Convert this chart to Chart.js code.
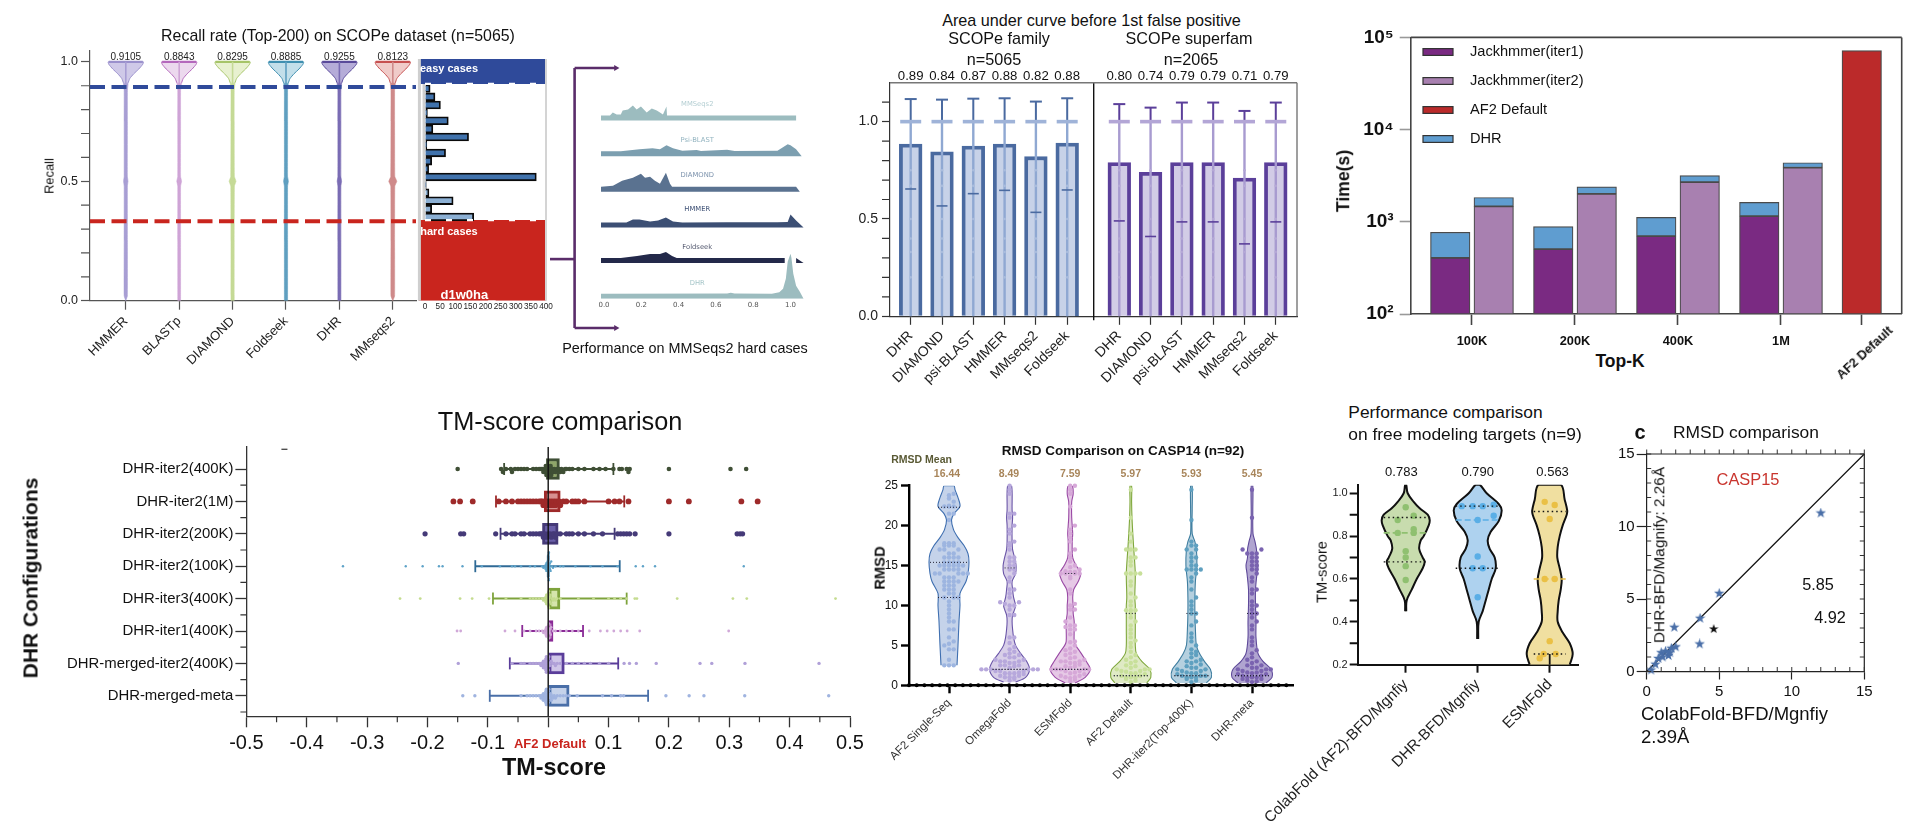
<!DOCTYPE html>
<html><head><meta charset="utf-8">
<style>html,body{margin:0;padding:0;background:#fff}#root{position:relative;width:1920px;height:831px;overflow:hidden;background:#fff}
canvas{position:absolute}.n{position:absolute;white-space:nowrap;line-height:1;color:#111;font-family:"Liberation Sans",Arial,sans-serif;transform-origin:center}</style>
<script src="https://cdn.jsdelivr.net/npm/chart.js@4/dist/chart.umd.min.js"></script>
</head><body><div id="root"></div>
<script>
// ---------- DATA ----------
// Panel A: recall violins
const recallMethods=['HMMER','BLASTp','DIAMOND','Foldseek','DHR','MMseqs2'];
const recallMeans=['0.9105','0.8843','0.8295','0.8885','0.9255','0.8123'];
const recallFill=['#cfc9e8','#ecd9ee','#e8f1d0','#c3dfea','#b5acd8','#f0cbc9'];
const recallBody=['#a89ed4','#cfa4d6','#c5da96','#5f9fc0','#7a6cb4','#cf8a8a'];
const recallStroke=['#9a90cc','#b468bc','#a6c468','#3f8fb0','#5a4a9a','#c65050'];
const recallLevels=[0,0.02,0.25,0.48,0.5,0.52,0.75,0.88,0.91,0.93,0.95,0.97,0.99,1.0];
const recallWidths=[[0,1.6,1.6,1.6,2.2,1.6,1.6,1.6,2.2,4,8,13,17,17.5],[1.4,1.4,1.4,1.4,2.4,1.4,1.4,1.4,2.2,4,8,13,17,17.5],[1.6,1.6,1.6,1.8,3.4,1.8,1.6,1.6,2.2,4,8,13,17,17.5],[1.6,1.6,1.6,1.6,2.4,1.6,1.6,1.6,2.2,4,8,13,17,17.5],[1.5,1.5,1.5,1.5,2.2,1.5,1.5,1.5,2.2,4,8,13,17,17.5],[0,1.8,1.8,2,4,2,1.8,1.8,2.4,4,8,13,17,17.5]];
const easyThreshold=0.895, hardThreshold=0.333;
// Panel B: MMseqs2 sample histogram
const histRecall=[0.876,0.842,0.808,0.776,0.743,0.709,0.676,0.644,0.610,0.576,0.544,0.511,0.478,0.446,0.413,0.378,0.346];
const histCount=[17,33,51,8,77,26,144,6,68,22,12,368,4,13,93,22,161];
const histTicks=[0,50,100,150,200,250,300,350,400];
// Ridge plots
const ridgeNames=['MMSeqs2','Psi-BLAST','DIAMOND','HMMER','Foldseek','DHR'];
const ridgeColors=['#9cbcbf','#7c9fb0','#5a7290','#3c4f74','#23294a','#9cbcbf'];
const ridgeX=[[-.016,.032,.047,.068,.09,.10,.129,.155,.175,.198,.229,.256,.283,.30,.316,.335,.338,1.03],
[-.016,.09,.19,.26,.30,.335,.37,.42,.497,.52,.66,.70,.93,.985,1.0,1.03,1.06],
[-.016,.048,.097,.155,.198,.22,.247,.273,.30,.332,.354,.365,1.03,1.05],
[-.016,.12,.155,.19,.247,.29,.332,.37,.42,.66,.70,.93,.985,1.0,1.03,1.07],
[-.016,.09,.177,.247,.30,.332,.365,.39,.969,null,1.03,1.07],
[-.016,.66,.68,.70,.90,.94,.96,.975,.985,1.0,1.005,1.015,1.03,1.05,1.07]];
const ridgeH=[[0,0,3,1,1,5,6,10,6,9,3,7,5,3,1,9,0,0],
[0,0,2,3,2,6,3,.5,1.2,.3,1.5,.3,.5,7,6,2,-5],
[0,1,6,9,13,9,10,6,3,14,3,0,0,-5],
[0,0,3,3,1,2,5,1,0,.2,.2,.2,.5,8,2,-5],
[0,0,2,4,4,6,2,0,0,null,0,-5],
[0,.2,1,.2,0,1.5,5,15,32,40,36,20,8,2,-5]];
const ridgeTicks=[0,.2,.4,.6,.8,1];
// Panel C: AUC before 1st FP
const aucMethods=['DHR','DIAMOND','psi-BLAST','HMMER','MMseqs2','Foldseek'];
const aucFamLabels=['0.89','0.84','0.87','0.88','0.82','0.88'];
const aucSupLabels=['0.80','0.74','0.79','0.79','0.71','0.79'];
const aucFam=[0.885,0.845,0.875,0.885,0.82,0.89];
const aucSup=[0.79,0.74,0.79,0.79,0.71,0.79];
const aucFamCap=[1.116,1.113,1.118,1.12,1.103,1.12];
const aucSupCap=[1.09,1.072,1.098,1.098,1.055,1.098];
const aucFamMed=[.654,.567,.63,.647,.534,.649];
const aucSupMed=[.49,.41,.485,.485,.372,.485];
const aucDots=[.2,.33,.4,.5,.67,.75];
// Panel D: time
const topK=['100K','200K','400K','1M'];
const iter1=[405,506,698,1153];
const iter1Total=[770,885,1117,1622];
const iter2=[1468,2005,2700,3860];
const iter2Total=[1836,2390,3170,4370];
const af2Time=71900;
const timeSeries=['Jackhmmer(iter1)','Jackhmmer(iter2)','AF2 Default','DHR'];
const timeColors=['#7a2a82','#a880b0','#bb2a2a','#5f9dd0'];
// Panel E: TM-score boxes
const tmRows=['DHR-iter2(400K)','DHR-iter2(1M)','DHR-iter2(200K)','DHR-iter2(100K)','DHR-iter3(400K)','DHR-iter1(400K)','DHR-merged-iter2(400K)','DHR-merged-meta'];
const tmBox=[[-.003,.0186],[-.0066,.02],[-.0095,.0165],[-.002,.002],[0,.0195],[0,.008],[0,.0267],[0,.0347]];
const tmWhisk=[[-.073,.108],[-.0865,.126],[-.079,.11],[-.1208,.1185],[-.0915,.13],[-.043,.0577],[-.0636,.116],[-.0968,.1655]];
const tmDark=['#3f4f35','#9e2a2a','#453a78','#2f6a96','#7ea33c','#8a2a96','#5a3d9a','#4a6fa8'];
const tmLight=['#8fa56a','#d89090','#6a5fa8','#8fc0dc','#d5e5ac','#c080cc','#cfc5e8','#c5d2ea'];
const tmDot=['#3f4f35','#9e2a2a','#453a78','#5fa3c8','#c5dc90','#d0a8d8','#b0a0d8','#a0b4e0'];
const tmDotSize=[2.3,2.9,2.6,1.2,1.4,1.4,1.7,1.7];
const tmVals=[
[-.15,-.078,-.075,-.07,-.062,-.06,-.055,-.05,-.045,-.04,-.035,-.025,-.02,-.015,-.012,-.01,-.008,-.006,-.005,-.004,-.003,-.002,-.001,0,.001,.002,.003,.004,.005,.006,.008,.01,.012,.015,.018,.02,.022,.025,.028,.03,.035,.04,.05,.06,.075,.085,.095,.108,.118,.122,.13,.133,.135,.2,.302,.328],
[-.157,-.146,-.125,-.082,-.07,-.06,-.05,-.045,-.04,-.035,-.03,-.025,-.02,-.015,-.012,-.01,-.008,-.006,-.004,-.002,0,.002,.004,.006,.008,.01,.012,.014,.018,.02,.025,.03,.04,.045,.05,.06,.1,.11,.118,.133,.2,.233,.32,.347],
[-.204,-.145,-.14,-.087,-.07,-.06,-.055,-.045,-.04,-.03,-.025,-.02,-.015,-.012,-.01,-.008,-.005,-.003,0,.003,.005,.008,.01,.012,.015,.02,.03,.035,.04,.05,.06,.075,.09,.115,.12,.125,.13,.135,.144,.2,.313,.318,.322],
[-.34,-.236,-.208,-.181,-.175,-.142,-.11,-.08,-.06,-.055,-.045,-.03,-.022,-.01,-.008,-.006,-.005,-.004,-.004,-.003,-.003,-.002,-.002,-.002,-.001,-.001,-.001,-.001,0,0,0,0,0,0,0,0,.001,.001,.001,.001,.002,.002,.002,.003,.003,.004,.005,.006,.008,.012,.02,.025,.045,.07,.09,.115,.145,.157,.177,.324],
[-.2455,-.212,-.146,-.126,-.098,-.07,-.045,-.03,-.025,-.02,-.015,-.01,-.008,-.006,-.005,-.004,-.004,-.003,-.003,-.002,-.002,-.001,-.001,0,0,0,0,.001,.001,.002,.002,.003,.003,.004,.005,.006,.008,.01,.012,.015,.02,.05,.075,.1,.11,.12,.13,.1435,.147,.2137,.306,.329,.476],
[-.151,-.145,-.0716,-.055,-.04,-.03,-.02,-.015,-.01,-.008,-.006,-.005,-.004,-.004,-.003,-.003,-.002,-.002,-.001,-.001,0,0,0,.001,.001,.002,.002,.003,.004,.005,.008,.012,.02,.03,.04,.05,.068,.0865,.0977,.1087,.12,.1308,.1516,.299],
[-.149,-.06,-.045,-.04,-.03,-.025,-.02,-.015,-.012,-.012,-.01,-.01,-.008,-.008,-.006,-.006,-.005,-.005,-.004,-.004,-.003,-.003,-.002,-.002,-.001,-.001,0,0,.001,.002,.003,.005,.008,.01,.012,.015,.02,.03,.04,.05,.06,.07,.085,.1,.1257,.1347,.146,.179,.2515,.271,.326,.4487],
[-.1415,-.1215,-.045,-.035,-.03,-.025,-.02,-.015,-.012,-.012,-.01,-.01,-.008,-.008,-.006,-.006,-.005,-.005,-.004,-.004,-.003,-.003,-.002,-.002,-.001,-.001,0,0,.001,.002,.003,.004,.005,.006,.008,.01,.012,.015,.02,.025,.03,.035,.048,.09,.105,.12,.125,.195,.2335,.258,.3256,.4647]];
const tmTicks=[-.5,-.4,-.3,-.2,-.1,0,.1,.2,.3,.4,.5];
// Panel F: RMSD violins
const rmsdNames=['AF2 Single-Seq','OmegaFold','ESMFold','AF2 Default','DHR-iter2(Top-400K)','DHR-meta'];
const rmsdMeans=['16.44','8.49','7.59','5.97','5.93','5.45'];
const rmsdFill=['#c5d3ea','#d8cfe8','#e6c9e6','#dfeac5','#b5d0df','#b0a4d0'];
const rmsdStroke=['#3f6fb0','#6a55a8','#9a4aa5','#7fa83c','#3f7ea0','#5f4a9a'];
const rmsdDot=['#9db5e0','#b7a8dc','#d6a8d8','#c8e09a','#5fa0c0','#7a63b0'];
const rmsdY=[[2.5,5,8,10,11.5,13,14,15.4,16.5,17.5,18.5,19.5,20.7,21.5,22.4,23.5,24.5,25],
[.4,1,2,3,4,5,6,7,8,8.8,9.5,10,11,12,13,14,15,16,17,18,20,21,22,25],
[.3,1,2,3,4,5,5.5,7,8,9,10,11,12,13,14,15,16,18,19,21,23,24,25],
[.3,1,2,3,4,5,7,9,10,11,14,17,19,21,23,25],
[.3,1,2,3,4,5,7,9,11,13,15,17,18,19,22,25],
[.3,1,2,3,4,6,8,10,12,14,15,16,17,18,19,22,25]];
const rmsdW=[[8,9,10,11,11,17,19,20,19,15,9,4.5,2.5,5,11,9,6,5],
[6,16,20,17,11,6,4,3,2.5,3,5,6,4,3,2.5,6,6.5,5,3,2.5,2.5,3,2.5,2],
[5,15,20,16,11,5.5,4,4,4,3,3,2.5,3.5,8,10.5,6,2.5,2,2.5,1.5,1.5,3,2],
[16,20,19,11,5.5,4.5,4.5,4.5,4.5,4,4.5,3,2,1.2,.8,.8],
[15,20,19,13,8,5,4,3.5,3.5,4,5.5,5,3.5,.8,.8,.8],
[14,20,19,11,6,4,4,3.5,3.5,5,6,4.5,4.5,3,1,.8,.8]];
const rmsdDots=[
[2.5,2.5,2.5,3.2,4.5,4.5,5,5.2,5.5,6,7,7,8,8,8.5,9,9.5,10,10.5,11,11,11,11.5,11.5,12,12,12,12.5,12.5,12.5,13,13,13,13,13.5,13.5,13.5,14,14,14,14,14,14.5,14.5,14.5,14.5,15,15,15,15,15,15,15.4,15.4,15.4,15.4,16,16,16,16,16.5,16.5,17,17,17,17.5,17.5,17.5,17.8,17.8,17.8,20.7,21.5,21.5,22.4,22.4,22.4,22.5,23,23.4,23.8,24],
[.6,.8,1,1,1,1.2,1.2,1.4,1.5,1.5,1.5,1.6,1.8,1.8,1.8,2,2,2,2,2,2,2.2,2.4,2.5,2.5,2.5,2.8,2.8,3,3,3,3.2,3.2,3.5,3.5,3.8,3.8,4,4.2,4.5,4.8,5.3,6,6,8.8,8.8,9.5,10,10,10.2,10.4,10.4,11,11.5,12,12,13,13.5,14,14.5,14.5,15,15,15.5,15.5,16,16,17,17.5,17.8,18,19,19.5,20,21,21.5,21.5,24,24.5,25],
[.5,.7,.9,1,1,1.2,1.2,1.4,1.5,1.6,1.8,1.8,2,2,2,2,2,2.2,2.4,2.4,2.6,2.8,2.8,3,3,3,3.2,3.4,3.5,3.8,4,4.2,4.4,4.6,5,5.4,5.5,6.4,7,7,7.3,7.5,7.5,8,8.5,9.5,9.5,10,10.2,11.5,12,13.4,13.6,14,14,14,14,14.2,14.2,14.3,14.5,14.8,15,15.5,16,16.5,17,18,18.5,19,19.5,20,22.4,24,24.5,25,25],
[.4,.6,.8,1,1,1,1.2,1.2,1.4,1.5,1.5,1.7,1.8,1.8,2,2,2,2.2,2.4,2.5,2.8,3,3.2,3.5,3.8,4.2,4.8,5.3,5.6,6,6.5,7,7.5,8,8.5,9,9.4,9.4,9.4,10,10.5,11,11.5,12.5,13,14,14,14,14,15,15.5,16,16,17,17,17,18,19,21,24.5],
[.4,.6,.8,1,1,1,1.2,1.2,1.2,1.4,1.5,1.5,1.6,1.8,1.8,2,2,2.2,2.2,2.4,2.6,2.8,3,3,3.2,3.5,3.8,4,4.2,4.5,5,5.5,6,6.5,7.5,8,9,9,9.5,10,10.5,11,12,13,13.5,14,14.5,14.5,14.5,14.5,15,15,15.5,16,16,16.5,17,17,17.5,17.5,18,20.7,24.5],
[.4,.5,.6,.8,.8,1,1,1,1.2,1.2,1.4,1.4,1.5,1.6,1.6,1.8,1.8,2,2,2,2.2,2.2,2.5,2.5,2.8,3,3.2,3.5,4,4.4,5,5.5,6,7,7.5,8,8.5,9,9,9.5,10,10,10.5,11.5,12,12,13,13.5,14,14.5,14.5,15,15,15.5,15.5,16,16,16.5,16.5,16.5,17,17,21,24.5]];
const rmsdQuart=[[11,15.4,22.3],[2,2,14.7],[2,2,14],[1.2,1.2,9],[1.2,1.2,9],[1.2,1.2,9]];
// Panel G: free modeling violins
const fmNames=['ColabFold (AF2)-BFD/Mgnfiy','DHR-BFD/Mgnfiy','ESMFold'];
const fmMeans=['0.783','0.790','0.563'];
const fmFill=['#c8dcae','#aed2ef','#f0dfa0'];
const fmDot=['#8fc070','#5aaee6','#eac045'];
const fmY=[[.45,.5,.55,.6,.65,.68,.7,.74,.78,.8,.85,.875,.9,.93,.96,1.0,1.04],
[.32,.4,.45,.5,.55,.6,.65,.7,.74,.78,.82,.87,.92,.95,1.0,1.04],
[.2,.25,.3,.35,.4,.45,.5,.55,.6,.65,.7,.75,.8,.85,.9,.92,.97,1.04]];
const fmW=[[.5,1,6,11,17,19,17,13.5,15,18,23,24,22,14,8,2,.5],
[.5,1,5,8,11,14,18,17,12,10,13,21,24,21,9,2],
[20,23,20,13,8,8,9,11,12,10,7.6,8,10,13,17,17.5,15,11]];
const fmPts=[[[.935,0],[.895,8],[.875,-8],[.832,8],[.815,-8],[.815,8],[.73,0],[.70,0],[.66,0],[.595,0]],
[[.94,-16],[.94,-5],[.94,5],[.947,16],[.895,16],[.875,0],[.705,0],[.65,-5],[.65,5],[.515,0]],
[[.96,-5],[.945,5],[.88,0],[.60,-5],[.60,5],[.31,0],[.25,-6],[.25,6],[.23,-10]]];
const fmLines=[[.887,.68],[.94,.65],[.915,.25]], fmMed=[.815,.875,.6];
// Panel H: scatter
const casp15Base=[12,5,3.68,1.9,3.65,.3,.6,.8,1,1.1,1.3,1.5,1.6,1.7,2];
const casp15Dhr=[10.93,5.39,3.67,3.05,1.9,.1,.5,.9,1.3,1,1.4,1.1,1.3,1.6,1.7];
const casp15Marked=[[4.62,2.93]];
const rmsdAxis=[0,5,10,15];

// ---------- HELPERS ----------
const FAM='"Liberation Sans",Arial,sans-serif';
const root=document.getElementById('root');
Chart.defaults.font.family=FAM;
function note(text,x,y,size,o={}){
  const s=document.createElement('span');s.className='n';s.textContent=text;
  s.style.fontSize=size+'px';if(o.bold)s.style.fontWeight='bold';if(o.color)s.style.color=o.color;
  if(o.family)s.style.fontFamily=o.family;
  const ax=o.align==='left'?'0':o.align==='right'?'-100%':'-50%';
  s.style.left=x+'px';s.style.top=y+'px';
  s.style.transform=`translate(${ax},-50%)`+(o.rot?` rotate(${o.rot}deg)`:'');
  root.appendChild(s);
}
function build(box,plot,cfg,ex={}){
  const c=document.createElement('canvas');c.width=box.w;c.height=box.h;
  c.style.left=box.x+'px';c.style.top=box.y+'px';c.style.width=box.w+'px';c.style.height=box.h+'px';root.appendChild(c);
  const sc=cfg.scales;
  const xShown=sc.x.display!==false, yShown=sc.y.display!==false;
  if(xShown)sc.x.afterFit=s=>{s.height=box.y+box.h-plot.b};
  if(yShown)sc.y.afterFit=s=>{s.width=plot.l-box.x};
  const plugin={id:'extras',afterDatasetsDraw(ch){
    const g=ch.ctx,a=ch.chartArea;g.save();
    if(ex.frame){g.strokeStyle=ex.frame.color;g.lineWidth=ex.frame.width;g.beginPath();
      if(ex.frame.sides.includes('t')){g.moveTo(a.left,a.top);g.lineTo(a.right,a.top);}
      if(ex.frame.sides.includes('r')){g.moveTo(a.right,a.top);g.lineTo(a.right,a.bottom);}
      g.stroke();}
    (ex.ticks||[]).forEach(t=>{g.strokeStyle=t.color||'#333';g.lineWidth=t.width||1;g.beginPath();
      t.at.forEach(v=>{
        if(t.axis==='x'){const p=ch.scales.x.getPixelForValue(v),y0=t.far?a.top:a.bottom,d=t.far?-t.len:t.len;g.moveTo(p,y0);g.lineTo(p,y0+d);}
        else{const p=ch.scales.y.getPixelForValue(v),x0=t.far?a.right:a.left,d=t.far?t.len:-t.len;g.moveTo(x0,p);g.lineTo(x0+d,p);}
      });g.stroke();});
    (ex.texts||[]).forEach(t=>{g.font=`${t.weight||'normal'} ${t.size}px ${t.family||FAM}`;g.fillStyle=t.color||'#111';g.textAlign='center';g.textBaseline='middle';
      g.fillText(t.text,ch.scales.x.getPixelForValue(t.x),ch.scales.y.getPixelForValue(t.y)+(t.dy||0));});
    (ex.legend||[]).forEach((l,i)=>{g.fillStyle=l.color;g.strokeStyle='#333';g.lineWidth=1.2;
      const X=l.sx-box.x,Y=l.sy-box.y;g.fillRect(X,Y-3.4,30,6.8);g.strokeRect(X,Y-3.4,30,6.8);
      g.fillStyle='#111';g.font=`14.6px ${FAM}`;g.textAlign='left';g.textBaseline='middle';g.fillText(l.text,X+47,Y);});
    g.restore();
  }};
  const ds=cfg.datasets;ds.forEach((d,i)=>{d.order=-i;});
  return new Chart(c,{type:'scatter',data:{datasets:ds},plugins:[plugin],options:{responsive:false,animation:false,devicePixelRatio:1,events:[],
    layout:{padding:{left:yShown?0:plot.l-box.x,top:plot.t-box.y,right:box.x+box.w-plot.r,bottom:xShown?0:box.y+box.h-plot.b}},
    plugins:{legend:{display:false},tooltip:{enabled:false},title:{display:false}},scales:sc}});
}
function axis(o){return {type:o.type||'linear',min:o.min,max:o.max,reverse:!!o.reverse,display:o.display!==false,offset:false,
  border:{display:o.line!==false,color:o.color||'#333',width:o.lw||1.2},
  grid:{offset:false,drawOnChartArea:false,drawTicks:o.tl!==0,tickLength:o.tl===undefined?8:o.tl,tickColor:o.tickColor||o.color||'#333',tickWidth:o.lw||1.2},
  ticks:{font:{size:o.size||12,weight:o.weight||'normal',family:o.family||FAM},color:o.fc||'#111',padding:o.pad===undefined?3:o.pad,autoSkip:false,maxRotation:o.rot||0,minRotation:o.rot||0,
    callback:o.fmt||(v=>v)},
  afterBuildTicks:o.at?(s=>{s.ticks=o.at.map(v=>({value:v}))}):undefined};}
const hidden=(min,max)=>({type:'linear',min,max,display:false,offset:false,grid:{offset:false}});
const seg=(pairs,color,width,extra={})=>Object.assign({type:'scatter',showLine:true,data:pairs.map(p=>p?{x:p[0],y:p[1]}:{x:null,y:null}),borderColor:color,borderWidth:width,pointRadius:0,fill:false,tension:0,clip:false},extra);
const pts=(pairs,color,r,extra={})=>Object.assign({type:'scatter',data:pairs.map(p=>({x:p[0],y:p[1]})),backgroundColor:color,borderColor:color,pointRadius:r,borderWidth:0,pointBorderWidth:0,clip:false},extra);
const bars=(pairs,fill,stroke,width,thick,extra={})=>Object.assign({type:'bar',data:pairs.map(p=>({x:p[0],y:p[1]})),backgroundColor:fill,borderColor:stroke,borderWidth:width,maxBarThickness:thick,barPercentage:1,categoryPercentage:1,grouped:false,clip:false},extra);
function violin(cx,ys,ws,pxPerUnit){const L=[],R=[];ys.forEach((y,i)=>{L.push({x:cx-ws[i]/pxPerUnit,y});});for(let i=ys.length-1;i>=0;i--)R.push({x:cx+ws[i]/pxPerUnit,y:ys[i]});return L.concat(R);}
const shape=(data,fill,stroke,w,t=0.3)=>({type:'scatter',showLine:true,data,fill:'shape',backgroundColor:fill,borderColor:stroke,borderWidth:w,pointRadius:0,tension:t});
function range(a,b,s){const r=[];for(let i=0;Math.round((a+i*s)*1e6)/1e6<=b;i++)r.push(Math.round((a+i*s)*1e6)/1e6);return r;}
function star(color,size){const c=document.createElement('canvas');c.width=c.height=size;const g=c.getContext('2d');g.fillStyle=color;g.beginPath();
  for(let i=0;i<10;i++){const r=i%2?size*.2:size*.5,a=-Math.PI/2+i*Math.PI/5;g.lineTo(size/2+r*Math.cos(a),size/2+r*Math.sin(a));}g.closePath();g.fill();return c;}

// ---------- PANEL A ----------
(function(){
 const step=53.4,k=step;
 const ds=[];
 recallMethods.forEach((m,i)=>{
  const cut=8;
  ds.push(shape(violin(i+1,recallLevels.slice(cut),recallWidths[i].slice(cut),k),recallFill[i],recallStroke[i],1,0.2));
  ds.push(shape(violin(i+1,recallLevels.slice(0,cut+1),recallWidths[i].slice(0,cut+1),k),recallBody[i],recallBody[i],.6,0.1));
  ds.push(seg([[i+1-17/k,1],[i+1+17/k,1]],recallStroke[i],2.2));
  ds.push(seg([[i+1,.9],[i+1,1]],recallBody[i],1.6));
 });
 const xmax=1+(416-125.8)/step;
 ds.push(seg([[.33,easyThreshold],[xmax,easyThreshold]],'#2f4a9a',4,{borderDash:[15,6.5]}));
 ds.push(seg([[.33,hardThreshold],[xmax,hardThreshold]],'#c9251e',4,{borderDash:[15,6.5]}));
 build({x:20,y:40,w:420,h:360},{l:90,t:47,r:416,b:300.7},{datasets:ds,scales:{
  x:axis({min:.33,max:xmax,at:[1,2,3,4,5,6],fmt:(v)=>recallMethods[v-1],rot:45,size:13,tl:9,color:'#555',lw:1.2,fc:'#222',pad:4}),
  y:axis({min:0,max:(300.7-47)/242.2,at:[0,.5,1],fmt:v=>v.toFixed(1),size:12.5,tl:9,color:'#555',lw:1.2,fc:'#222',pad:3})}},
  {ticks:[{axis:'y',at:[.1,.2,.3,.4,.6,.7,.8,.9],len:9,color:'#555',width:1.2}],
   texts:recallMeans.map((t,i)=>({x:i+1,y:1,text:t,size:10,color:'#222',dy:-4.5}))});
 note('Recall rate (Top-200) on SCOPe dataset (n=5065)',338,36,15.9);
 note('Recall',50,176,12.9,{rot:-90});
})();
// ---------- PANEL B ----------
(function(){
 const xmin=-21.5;
 const barColors=histCount.map((c,i)=>i<13?'#4072ac':'#8cb0d4');
 const ds=[
  seg([[xmin,easyThreshold],[400,easyThreshold],[400,.998],[xmin,.998],[xmin,easyThreshold]],'#2f4a9a',0,{fill:'shape',backgroundColor:'#2f4a9a'}),
  seg([[xmin,0],[400,0],[400,hardThreshold],[xmin,hardThreshold],[xmin,0]],'#c9251e',0,{fill:'shape',backgroundColor:'#c9251e'}),
  seg([[xmin+3,0],[xmin+3,.998]],'#cfcfcf',3),
  seg([[400,0],[400,.998]],'#d4d4d4',2),
  seg([[-4,easyThreshold],[-4,hardThreshold]],'#cfcfcf',2.5),
  bars(histCount.map((c,i)=>[c,histRecall[i]]),barColors,'#0a0a0a',1.8,8.6,{indexAxis:'y'}),
  seg([[0,easyThreshold],[400,easyThreshold]],'#ffffff',2.2,{borderDash:[6,15]}),
  seg([[0,hardThreshold],[400,hardThreshold]],'#ffffff',2.2,{borderDash:[6,15]}),
 ];
 build({x:400,y:50,w:170,h:265},{l:418.5,t:59,r:546,b:300.7},{datasets:ds,scales:{
  x:axis({min:xmin,max:400,at:histTicks,size:8.2,tl:0,line:false,fc:'#222',pad:1,fmt:v=>v}),
  y:hidden(0,.998)}},
  {});
 note('easy cases',449,68,11,{bold:true,color:'#fff'});
 note('hard cases',449,231,11,{bold:true,color:'#fff'});
 note('d1w0ha_',468,294,13,{bold:true,color:'#fff'});
})();
// ---------- CONNECTOR ----------
(function(){
 const col='#5a2d6a';
 build({x:540,y:60,w:90,h:280},{l:550,t:68,r:618,b:328},{datasets:[
  seg([[0,.265],[.3618,.265]],col,2.6),
  seg([[.3618,0],[.3618,1]],col,2.6),
  seg([[.3618,1],[.97,1]],col,2.6),
  seg([[.3618,0],[.97,0]],col,2.6),
  pts([[.97,1],[.97,0]],col,3.5,{pointStyle:'triangle',pointRotation:90})
 ],scales:{x:hidden(0,1),y:hidden(0,1)}});
})();
// ---------- RIDGES ----------
(function(){
 const ds=[];const xmin=(595-604)/186.5,xmax=(810-604)/186.5,band=5;
 ridgeNames.forEach((n,i)=>{
  const base=(5-i)*35.62;
  const line=[];ridgeX[i].forEach((x,j)=>{line.push(x===null?[null,null]:[x,base+band+ridgeH[i][j]]);});
  let cur=[];const flush=()=>{if(cur.length){const f=cur[0][0],l=cur[cur.length-1][0];
     ds.push(seg([[f,base]].concat(cur,[[l,base]]),ridgeColors[i],0,{fill:'shape',backgroundColor:ridgeColors[i],clip:true}));}cur=[];};
  line.forEach(p=>{if(p[0]===null)flush();else cur.push(p);});flush();
 });
 const labY=[16.1,16.3,16.3,18.7,16,15.7];
 build({x:570,y:90,w:260,h:225},{l:595,t:90,r:810,b:298.7},{datasets:ds,scales:{
  x:axis({min:xmin,max:xmax,at:ridgeTicks,tl:0,line:false,size:7,family:'"DejaVu Sans"',fc:'#555',pad:2,fmt:v=>v.toFixed(1)}),
  y:hidden(0,208.7)}},
  {texts:ridgeNames.map((n,i)=>({x:.5,y:(5-i)*35.62+5+labY[i]-5,text:n,size:6.8,family:'"DejaVu Sans"',color:['#b5cfd3','#93b4c0','#7d93ad','#3c4f74','#555a70','#a5c5c8'][i]}))});
 note('Performance on MMSeqs2 hard cases',685,348,14.4);
})();
// ---------- PANEL C ----------
(function(){
 const px=31.3, fx=[1,2,3,4,5,6], sx=fx.map(v=>v+6.664);
 const xmin=1-(910.7-890)/px,xmax=1+(1297-910.7)/px,div=1+(1093.7-910.7)/px;
 const allX=fx.concat(sx),allV=aucFam.concat(aucSup);
 const famDark='#4a6aa0',famLight='#8fa8d2',supDark='#5b3f9a',supLight='#a89bd0';
 const dark=allX.map((x,i)=>i<6?famDark:supDark);
 const ds=[
  bars(allX.map((x,i)=>[x,allV[i]]),allX.map((x,i)=>i<6?'#c7d2e8':'#d2cce6'),dark,3.8,22.7),
  seg(fx.flatMap(x=>[[x,0],[x,1],null]),famLight,2.4),
  seg(sx.flatMap(x=>[[x,0],[x,1],null]),supLight,2.4),
  seg(fx.flatMap((x,i)=>[[x,1],[x,aucFamCap[i]],null]),famDark,2),
  seg(sx.flatMap((x,i)=>[[x,1],[x,aucSupCap[i]],null]),supDark,2),
  pts(fx.map((x,i)=>[x,aucFamCap[i]]),famDark,6,{pointStyle:'line',pointBorderWidth:2,borderWidth:2}),
  pts(sx.map((x,i)=>[x,aucSupCap[i]]),supDark,6,{pointStyle:'line',pointBorderWidth:2,borderWidth:2}),
  pts(fx.map(x=>[x,1]),'#9fb3d8',10.5,{pointStyle:'line',pointBorderWidth:3.6,borderWidth:3.6}),
  pts(sx.map(x=>[x,1]),'#b3a6d6',10.5,{pointStyle:'line',pointBorderWidth:3.6,borderWidth:3.6}),
  pts(fx.map((x,i)=>[x,aucFamMed[i]]),famDark,5.5,{pointStyle:'line',pointBorderWidth:1.6,borderWidth:1.6}),
  pts(sx.map((x,i)=>[x,aucSupMed[i]]),supDark,5.5,{pointStyle:'line',pointBorderWidth:1.6,borderWidth:1.6}),
  pts(fx.flatMap(x=>aucDots.map(v=>[x,v])),'#a9bcdd',1.3),
  pts(sx.flatMap(x=>aucDots.map(v=>[x,v])),'#b5a8d6',1.3),
  seg([[div,-.02],[div,1.2]],'#111',1.4)
 ];
 const names=aucMethods.concat(aucMethods);
 build({x:820,y:60,w:500,h:350},{l:890,t:82.7,r:1297,b:316.3},{datasets:ds,scales:{
  x:axis({min:xmin,max:xmax,at:allX,fmt:(v,i)=>names[i],rot:45,size:14,tl:8.5,color:'#333',pad:3,fc:'#222'}),
  y:axis({min:0,max:1.2,at:[0,.5,1],fmt:v=>v.toFixed(1),size:14,tl:8,color:'#333',pad:4,fc:'#222'})}},
  {frame:{sides:'tr',color:'#777',width:1.4},
   ticks:[{axis:'y',at:[.1,.2,.3,.4,.6,.7,.8,.9,1.1],len:8,color:'#333',width:1.2}],
   texts:aucFamLabels.map((t,i)=>({x:fx[i],y:1.2,text:t,size:13.2,dy:-6})).concat(aucSupLabels.map((t,i)=>({x:sx[i],y:1.2,text:t,size:13.2,dy:-6})))});
 note('Area under curve before 1st false positive',1091.5,20,16.2);
 note('SCOPe family',999,38,16.2);note('n=5065',994,58.7,16.2);
 note('SCOPe superfam',1189,38,16.2);note('n=2065',1191,58.7,16.2);
})();
// ---------- PANEL D ----------
(function(){
 const off=.211,spread=topK.map((k,i)=>i),af=3.784;
 const xmin=-.595,xmax=(1901.7-1472)/103;
 const base=100,edge='#4a4a4a';
 const ds=[
  bars(spread.map(i=>[i-off,[base,iter1[i]]]),timeColors[0],edge,1.2,39.5,{borderSkipped:false}),
  bars(spread.map(i=>[i+off,[base,iter2[i]]]),timeColors[1],edge,1.2,39.5,{borderSkipped:false}),
  bars([[af,[base,af2Time]]],timeColors[2],edge,1.2,39.5,{borderSkipped:false}),
  bars(spread.map(i=>[i-off,[iter1[i],iter1Total[i]]]).concat(spread.map(i=>[i+off,[iter2[i],iter2Total[i]]])),timeColors[3],edge,1.2,39.5,{borderSkipped:false}),
 ];
 const sup=['²','³','⁴','⁵'];
 build({x:1300,y:20,w:620,h:330},{l:1410.7,t:35,r:1901.7,b:314},{datasets:ds,scales:{
  x:axis({min:xmin,max:xmax,at:[0,1,2,3,af],fmt:(v,i)=>topK[i]||'',size:12.8,weight:'bold',tl:11,color:'#444',lw:1.6,pad:9,fc:'#111'}),
  y:axis({type:'logarithmic',min:100,max:100000,at:[100,1000,10000,100000],fmt:(v,i)=>'10'+sup[i],size:19,weight:'bold',tl:11,color:'#444',lw:1.6,tickColor:'#999',pad:6,fc:'#111'})}},
  {frame:{sides:'tr',color:'#444',width:1.6},
   legend:timeSeries.map((t,i)=>({text:t,color:timeColors[i],sx:1423,sy:52+i*29}))});
 note('Time(s)',1344,181,17.6,{bold:true,rot:-90});
 note('Top-K',1620,362,17.5,{bold:true});
 note('AF2 Default',1865,353,12.8,{bold:true,rot:-43});
})();
// ---------- PANEL E ----------
(function(){
 const rowPx=32.4,ymin=1-(469-447)/rowPx,ymax=1+(716.3-469)/rowPx;
 const rows=tmRows.map((r,i)=>i+1);
 const ds=[];
 rows.forEach((r,i)=>ds.push(seg([[tmWhisk[i][0],r],[tmWhisk[i][1],r]],tmDark[i],2)));
 rows.forEach((r,i)=>ds.push(pts([[tmWhisk[i][0],r],[tmWhisk[i][1],r]],tmDark[i],6,{pointStyle:'line',pointRotation:90,pointBorderWidth:1.8,borderWidth:1.8})));
 ds.push(bars(rows.map((r,i)=>[tmBox[i],r]),tmLight,tmDark,3,21,{indexAxis:'y',borderSkipped:false}));
 rows.forEach((r,i)=>{
  const counts={};const d=[];
  tmVals[i].forEach(v=>{const b=Math.round(v/.004);counts[b]=(counts[b]||0)+1;const n=counts[b];
    const off=(n%2?-1:1)*Math.floor(n/2)*(tmDotSize[i]*1.3)/rowPx;d.push([v,r+off]);});
  ds.push(pts(d,tmDot[i],tmDotSize[i]));
 });
 ds.push(seg([[0,ymin],[0,ymax]],'#111',1.4));
 ds.push(seg([[-.442,ymin+.07],[-.432,ymin+.07]],'#333',1.2));
 build({x:20,y:430,w:860,h:340},{l:246.4,t:447,r:850,b:716.3},{datasets:ds,scales:{
  x:axis({min:-.5,max:.5,at:tmTicks,fmt:v=>v===0?'':v.toFixed(1),size:20,tl:11,color:'#333',lw:1.3,pad:4,fc:'#111'}),
  y:axis({min:ymin,max:ymax,reverse:true,at:rows,fmt:v=>tmRows[v-1],size:14.9,tl:11,color:'#333',lw:1.3,pad:2,fc:'#111'})}},
  {ticks:[{axis:'y',at:rows.map(r=>r+.5),len:6,color:'#333',width:1.2},{axis:'x',at:tmTicks.slice(0,10).map(v=>v+.05),len:6,color:'#333',width:1.2}]});
 note('TM-score comparison',560,422,25.3);
 note('DHR Configurations',30,578,21,{bold:true,rot:-90});
 note('TM-score',554,768,23.4,{bold:true});
 note('AF2 Default',550,743,13,{bold:true,color:'#c9251e'});
})();
// ---------- PANEL F ----------
(function(){
 const px=60.6,xmin=1-(949-909)/px,xmax=1+(1293-949)/px,ds=[];
 rmsdNames.forEach((n,i)=>{
  const cx=i+1;
  ds.push(shape(violin(cx,rmsdY[i],rmsdW[i],px),rmsdFill[i],rmsdStroke[i],1.1,.3));
  const seen={},d=[];
  rmsdDots[i].forEach(v=>{const b=Math.round(v/.6);seen[b]=(seen[b]||0)+1;const c=seen[b];
    d.push([cx+(c%2?-1:1)*Math.floor(c/2)*4.7/px,v]);});
  ds.push(pts(d,rmsdDot[i],2.2));
  ds.push(seg(rmsdQuart[i].flatMap(v=>{const wid=i===0?(v>20?11:v>15?19:11):(v<3?17:5);return [[cx-wid/px,v],[cx+wid/px,v],null];}),'#223',1,{borderDash:[1,2]}));
 });
 ds.push(seg([[xmin,0],[xmax,0]],'#000',4,{borderDash:[0,7.7],borderCapStyle:'round'}));
 build({x:780,y:440,w:540,h:370},{l:909,t:485.7,r:1293,b:685.3},{datasets:ds,scales:{
  x:axis({min:xmin,max:xmax,at:[1,2,3,4,5,6],fmt:v=>rmsdNames[v-1],rot:45,size:11.5,tl:8,color:'#000',lw:2.4,pad:3,fc:'#333'}),
  y:axis({min:0,max:25,at:[0,5,10,15,20,25],size:12,tl:8,color:'#000',lw:2.4,pad:3,fc:'#111'})}},
  {texts:rmsdMeans.map((t,i)=>({x:i+1-(i===0?.033:0)-(i===1?.011:0),y:25,text:t,size:10.5,weight:'bold',color:'#a8855a',dy:-11.7}))});
 note('RMSD Comparison on CASP14 (n=92)',1123,450.7,13.5,{bold:true});
 note('RMSD Mean',921.6,459,10.5,{bold:true,color:'#5a5a35'});
 note('RMSD',880,568,14.7,{bold:true,rot:-90});
})();
// ---------- PANEL G ----------
(function(){
 const px=72,xmin=1-(1405.7-1357.7)/px,xmax=1+(1578-1405.7)/px,ds=[];
 fmNames.forEach((n,i)=>{
  const cx=i+1;
  ds.push(shape(violin(cx,fmY[i],fmW[i],px),fmFill[i],'#111',2,.35));
  ds.push(seg([[cx,fmY[i][0]],[cx,fmY[i][1]]],'#111',1.8));
  ds.push(pts(fmPts[i].map(p=>[cx+p[1]/px,p[0]]),fmDot[i],3.2));
  const wid=[22,22,16][i];
  ds.push(seg(fmLines[i].flatMap(v=>[[cx-wid/px,v],[cx+wid/px,v],null]),'#111',1.4,{borderDash:[1.5,3]}));
  ds.push(seg([[cx-wid/px,fmMed[i]],[cx+wid/px,fmMed[i]]],fmDot[i],1.6,{borderDash:[6,3]}));
 });
 build({x:1200,y:450,w:390,h:381},{l:1357.7,t:484.7,r:1578,b:664.7},{datasets:ds,scales:{
  x:axis({min:xmin,max:xmax,at:[1,2,3],fmt:v=>fmNames[v-1],rot:45,size:15.2,tl:8,color:'#111',lw:2,pad:3,fc:'#222'}),
  y:axis({min:.2,max:1.04,at:[.2,.4,.6,.8,1],fmt:v=>v.toFixed(1),size:11,tl:8,color:'#111',lw:2,pad:2,fc:'#222'})}},
  {ticks:[{axis:'y',at:[.3,.5,.7,.9],len:8,color:'#111',width:2}],
   texts:fmMeans.map((t,i)=>({x:[.94,2,3.04][i],y:1.04,text:t,size:13,dy:-12}))});
 note('Performance comparison',1348.3,413,17.4,{align:'left'});
 note('on free modeling targets (n=9)',1348.3,435,17.4,{align:'left'});
 note('TM-score',1322,571.7,14.7,{rot:-90});
})();
// ---------- PANEL H ----------
(function(){
 const blue=star('#4a6fa8',11),black=star('#111',10),ones=range(0,15,1);
 const ds=[
  seg([[0,0],[15,15]],'#111',1.2),
  pts(casp15Base.map((v,i)=>[v,casp15Dhr[i]]),'#4a6fa8',5.5,{pointStyle:blue}),
  pts(casp15Marked,'#111',5,{pointStyle:black})
 ];
 build({x:1600,y:440,w:300,h:270},{l:1646.7,t:454,r:1864.3,b:671.5},{datasets:ds,scales:{
  x:axis({min:0,max:15,at:rmsdAxis,size:15,tl:8,color:'#222',pad:3,fc:'#111'}),
  y:axis({min:0,max:15,at:rmsdAxis,size:15,tl:10,color:'#222',pad:2,fc:'#111'})}},
  {frame:{sides:'tr',color:'#222',width:1.2},
   ticks:[{axis:'x',at:ones,len:-4.5,color:'#333'},{axis:'y',at:ones,len:-4.5,color:'#333'},
          {axis:'x',at:ones,len:4.5,far:true,color:'#333'},{axis:'y',at:ones,len:-4.5,far:true,color:'#333'}]});
 note('c',1640,432,20,{bold:true});
 note('RMSD comparison',1746,433,17.4);
 note('CASP15',1748,478.7,16.4,{color:'#c9352e'});
 note('5.85',1818,584,16.3);note('4.92',1830,616.7,16.3);
 note('DHR-BFD/Magnify: 2.26Å',1659,555,15.4,{rot:-90});
 note('ColabFold-BFD/Mgnfiy',1641,714,18.5,{align:'left'});
 note('2.39Å',1641,737,18.5,{align:'left'});
})();
</script></body></html>
